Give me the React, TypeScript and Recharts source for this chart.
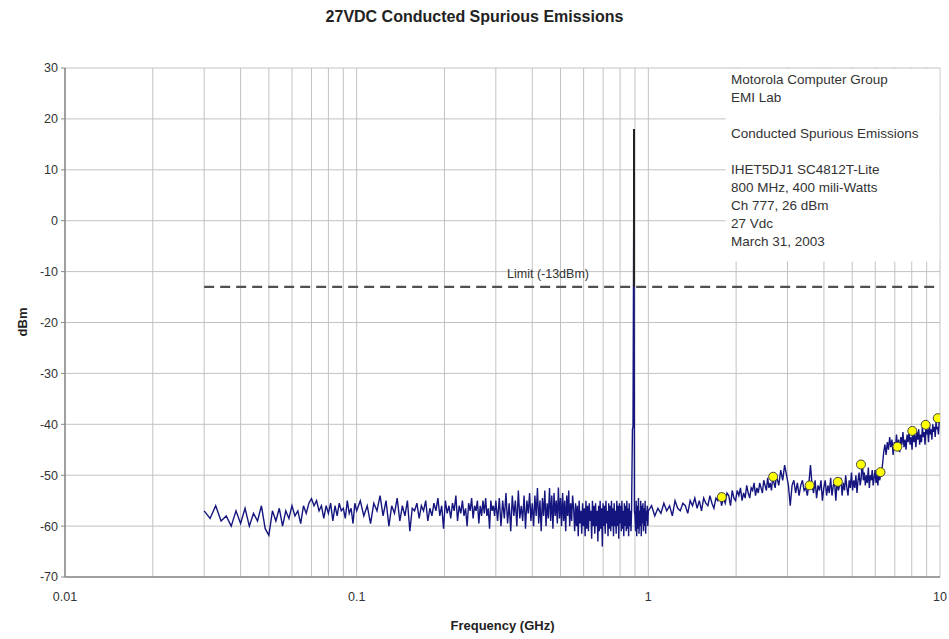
import React from "react";
import {
  ComposedChart,
  Line,
  XAxis,
  YAxis,
  CartesianGrid,
  ReferenceArea,
  ReferenceDot,
} from "recharts";

// Sweep segments of the measured trace (GHz start/stop, dBm readings)
const sweepA = { start: 0.03, stop: 0.1 };
const valuesA = [
  -57, -58.5, -56, -59, -58, -60, -57, -59.5, -56.5, -60, -57.5, -59, -56, -60.5, -61.8, -57, -59,
  -56.5, -60, -57, -58.5, -56, -58, -57, -59.5, -56, -57.5, -55.5, -54.6, -56, -55, -57, -56, -58.5,
  -56, -57.5, -55.5, -59, -56, -58, -55.5, -57, -56.5, -58.5, -55, -57.5, -56.5, -59.5, -55.5, -57,
];

const sweepB = { start: 0.1, stop: 0.3 };
const valuesB = [
  -57, -55, -58, -56, -59.5, -55.5, -57, -54, -58, -55, -60, -56, -57.5, -54.5, -59, -56, -58, -55,
  -61, -56.5, -57, -55.5, -58.5, -56, -57, -55, -59, -56.5, -58, -55.5, -57, -54.5, -58, -56, -60.5,
  -55, -57.5, -56, -58.5, -55.5, -57, -54, -59, -56, -57.5, -55, -58, -56.5, -60, -55.5, -57, -54.5,
  -58.5, -56, -57, -55, -59.5, -56, -58, -55, -57.5, -54.5, -58, -56.5, -60.5, -55, -57, -56, -58, -55,
];

const sweepC = { start: 0.3, stop: 0.55 };
const valuesC = [
  -56, -59, -54.5, -60, -55, -58.5, -53.5, -59.5, -55.5, -61, -54, -58, -55, -60, -53, -58.5, -56, -59,
  -54, -60.5, -55, -57.5, -53.5, -59, -55.5, -60, -54, -58, -52.5, -59.5, -55, -61, -54.5, -58, -53,
  -60, -55.5, -58.5, -52.5, -59, -54, -60.5, -53.5, -58, -55, -59.5, -52.4, -58.5, -54.5, -60, -53.5,
  -59, -55, -61, -54, -58, -53, -60, -55.5, -59, -54,
];

const sweepD = { start: 0.555, stop: 0.872 };
const valuesD = [
  -57, -61, -55.5, -60, -56, -62, -55, -59.5, -57, -61.5, -55.5, -60, -56.5, -62, -55, -60.5, -56, -61,
  -55.5, -59, -57, -62.5, -55, -60, -56, -61.5, -55.5, -60, -57, -63, -56, -61, -55, -60.5, -56.5, -64,
  -55.5, -60, -56, -61.5, -55, -59.5, -57, -62, -55.5, -60.5, -56, -61, -55, -60, -56.5, -62, -55.5,
  -60, -57, -61.5, -55, -60, -56, -62.5, -55.5, -59.5, -56, -61, -55, -60.5, -57, -62, -55.5, -60, -56,
  -61, -55, -60.5, -56.5, -62, -55.5, -60, -57, -61,
];

// Carrier (Ch 777, 893 MHz) and its shoulders
const carrierFreqs = [0.876, 0.882, 0.886, 0.893, 0.896];
const carrierLevels = [-57, -41, -40.5, 18, -57];

const sweepE = { start: 0.9, stop: 1.0 };
const valuesE = [
  -58, -61, -55, -62, -56, -60.5, -54.5, -61.5, -57, -60, -55, -62, -56, -59.5, -55.5, -61, -56.5, -60,
  -55, -61.5, -57, -59, -56, -60, -57,
];

const sweepF = { start: 1.0, stop: 2.8 };
const valuesF = [
  -57, -56, -58, -56.5, -57.5, -55.5, -57, -56, -58, -55, -56.5, -57, -55.5, -56, -57.5, -55, -56,
  -54.5, -56.5, -55, -57, -54.5, -55.5, -56, -54, -55.5, -56.5, -54.5, -55, -53.5, -56, -54.5, -55.5,
  -53.5, -54, -56, -53, -54.5, -55, -53, -54, -52.5, -55, -53.5, -54.5, -52, -53.5, -54.5, -52.5, -53,
  -51.5, -54, -52.5, -53.5, -51.5, -52.5, -53.5, -51, -52, -53, -50.5, -52.5, -51.5, -53, -50.5, -51.5,
  -52.5, -50, -51, -52,
];

const sweepG = { start: 2.8, stop: 6.3 };
const valuesG = [
  -50.5, -49, -51, -48, -50, -52, -56, -52, -51, -53.5, -51.5, -54, -52, -51, -53, -52.5, -54, -51.5,
  -48, -52, -53.5, -51, -54.5, -52, -53, -51, -55, -52.5, -51, -54, -52, -53.5, -50.5, -54, -52, -51.5,
  -55, -51, -53, -52, -50.5, -54, -51.5, -53, -50, -52.5, -54, -51, -52.5, -49.5, -53, -51, -52.5, -50,
  -53.5, -51, -49.5, -52, -50.5, -47, -51, -49.5, -52, -50, -51.5, -48.5, -52.5, -50, -51, -49, -52,
  -50.5, -49, -51.5, -50, -52, -49.5, -51, -50, -49.5,
];

const sweepH = { start: 6.35, stop: 10 };
const valuesH = [
  -48, -45.5, -44, -46, -43.5, -45, -42.5, -44.5, -43, -46, -43.5, -45, -42, -44.5, -43, -45.5, -42.5,
  -44, -41.5, -44.5, -43, -45, -42, -43.5, -41.5, -44, -42.5, -45, -41, -43.5, -42, -44.5, -41.5, -43,
  -41, -44, -42, -43.5, -40.5, -42.5, -41.5, -44, -40.5, -42, -41, -43.5, -40, -42, -41, -43, -40,
  -41.5, -40.5, -42.5, -39.5, -41, -40.5, -42, -39.5, -39,
];

// Harmonics 2..11 of the carrier
const harmonicFreqs = [1.786, 2.679, 3.572, 4.465, 5.358, 6.251, 7.144, 8.037, 8.93, 9.823];
const harmonicLevels = [-54.3, -50.3, -52.0, -51.3, -47.9, -49.4, -44.4, -41.3, -40.1, -38.8];

// Spec limit
const limitLevel = -13;
const limitStart = 0.03;
const limitStop = 10;
const carrierPeak = 18;

const xTicks = [
  0.01, 0.02, 0.03, 0.04, 0.05, 0.06, 0.07, 0.08, 0.09,
  0.1, 0.2, 0.3, 0.4, 0.5, 0.6, 0.7, 0.8, 0.9,
  1, 2, 3, 4, 5, 6, 7, 8, 9, 10,
];
const xLabels = [0.01, 0.1, 1, 10];
const yTicks = [-70, -60, -50, -40, -30, -20, -10, 0, 10, 20, 30];

const noteLines = [
  "Motorola Computer Group",
  "EMI Lab",
  "",
  "Conducted Spurious Emissions",
  "",
  "IHET5DJ1 SC4812T-Lite",
  "800 MHz, 400 mili-Watts",
  "Ch 777, 26 dBm",
  "27 Vdc",
  "March 31, 2003",
];

type Pt = { f: number; v: number };

// Points of a sweep are evenly spaced in frequency between start and stop
const sweep = (s: { start: number; stop: number }, vals: number[]): Pt[] =>
  vals.map((v, i) => ({ f: s.start + ((s.stop - s.start) * i) / (vals.length - 1), v }));

const trace: Pt[] = [
  ...sweep(sweepA, valuesA),
  ...sweep(sweepB, valuesB).slice(1),
  ...sweep(sweepC, valuesC).slice(1),
  ...sweep(sweepD, valuesD),
  ...carrierFreqs.map((f, i) => ({ f, v: carrierLevels[i] })),
  ...sweep(sweepE, valuesE),
  ...sweep(sweepF, valuesF).slice(1),
  ...sweep(sweepG, valuesG).slice(1),
  ...sweep(sweepH, valuesH),
];

const harmonics: Pt[] = harmonicFreqs.map((f, i) => ({ f, v: harmonicLevels[i] }));
const limit: Pt[] = [
  { f: limitStart, v: limitLevel },
  { f: limitStop, v: limitLevel },
];
const carrierTop: Pt[] = [
  { f: carrierFreqs[3], v: limitLevel },
  { f: carrierFreqs[3], v: carrierPeak },
];

const FONT = '"Liberation Sans", Arial, sans-serif';

export default function App() {
  return (
    <div
      style={{
        position: "absolute",
        left: 0,
        top: 0,
        width: 949,
        height: 639,
        background: "#fff",
        fontFamily: FONT,
      }}
    >
      <ComposedChart width={949} height={639} margin={{ top: 68, right: 9, bottom: 22, left: 0 }}>
        <CartesianGrid stroke="#c2c2c2" strokeWidth={1} />
        <XAxis
          dataKey="f"
          type="number"
          scale="log"
          domain={[0.01, 10]}
          allowDataOverflow
          ticks={xTicks}
          interval={0}
          tickFormatter={(t: number) => (xLabels.includes(t) ? String(t) : "")}
          tickLine={false}
          tickMargin={9}
          height={40}
          axisLine={{ stroke: "#8a8a8a", strokeWidth: 1.5 }}
          tick={{ fill: "#333", fontSize: 12.5, fontFamily: FONT }}
        />
        <YAxis
          type="number"
          domain={[-70, 30]}
          ticks={yTicks}
          interval={0}
          width={65}
          tickSize={4}
          tickMargin={3}
          tickLine={{ stroke: "#8a8a8a" }}
          axisLine={{ stroke: "#8a8a8a", strokeWidth: 1.5 }}
          tick={{ fill: "#333", fontSize: 12.5, fontFamily: FONT }}
        />
        <ReferenceArea x1={1.84} x2={9.95} y1={-8} y2={29.8} fill="#fff" fillOpacity={1} stroke="none" />
        <Line
          data={trace}
          dataKey="v"
          stroke="#15157f"
          strokeWidth={1.4}
          dot={false}
          isAnimationActive={false}
        />
        <Line
          data={limit}
          dataKey="v"
          stroke="#505050"
          strokeWidth={2.2}
          strokeDasharray="10 6"
          dot={false}
          isAnimationActive={false}
        />
        <Line
          data={carrierTop}
          dataKey="v"
          stroke="#222"
          strokeWidth={2}
          dot={false}
          isAnimationActive={false}
        />
        <Line
          data={harmonics}
          dataKey="v"
          stroke="none"
          dot={{ r: 4.5, fill: "#ffff00", stroke: "#444", strokeWidth: 1 }}
          isAnimationActive={false}
        />
        <ReferenceDot
          x={0.453}
          y={limitLevel}
          r={0}
          fill="none"
          stroke="none"
          label={{ value: "Limit (-13dBm)", position: "top", offset: 9, fill: "#333", fontSize: 12.5, fontFamily: FONT }}
        />
      </ComposedChart>

      <div
        style={{
          position: "absolute",
          top: 8,
          left: 0,
          width: 949,
          textAlign: "center",
          fontWeight: "bold",
          fontSize: 16,
          color: "#222",
        }}
      >
        27VDC Conducted Spurious Emissions
      </div>

      <div
        style={{
          position: "absolute",
          top: 618,
          left: 65,
          width: 875,
          textAlign: "center",
          fontWeight: "bold",
          fontSize: 13,
          color: "#222",
        }}
      >
        Frequency (GHz)
      </div>

      <div
        style={{
          position: "absolute",
          left: 22,
          top: 322,
          transform: "translate(-50%, -50%) rotate(-90deg)",
          fontWeight: "bold",
          fontSize: 13,
          color: "#222",
          whiteSpace: "nowrap",
        }}
      >
        dBm
      </div>

      <div
        style={{
          position: "absolute",
          left: 731,
          top: 71,
          fontSize: 13.5,
          lineHeight: "18px",
          color: "#333",
          whiteSpace: "pre",
        }}
      >
        {noteLines.map((l, i) => (
          <div key={i}>{l === "" ? " " : l}</div>
        ))}
      </div>
    </div>
  );
}
